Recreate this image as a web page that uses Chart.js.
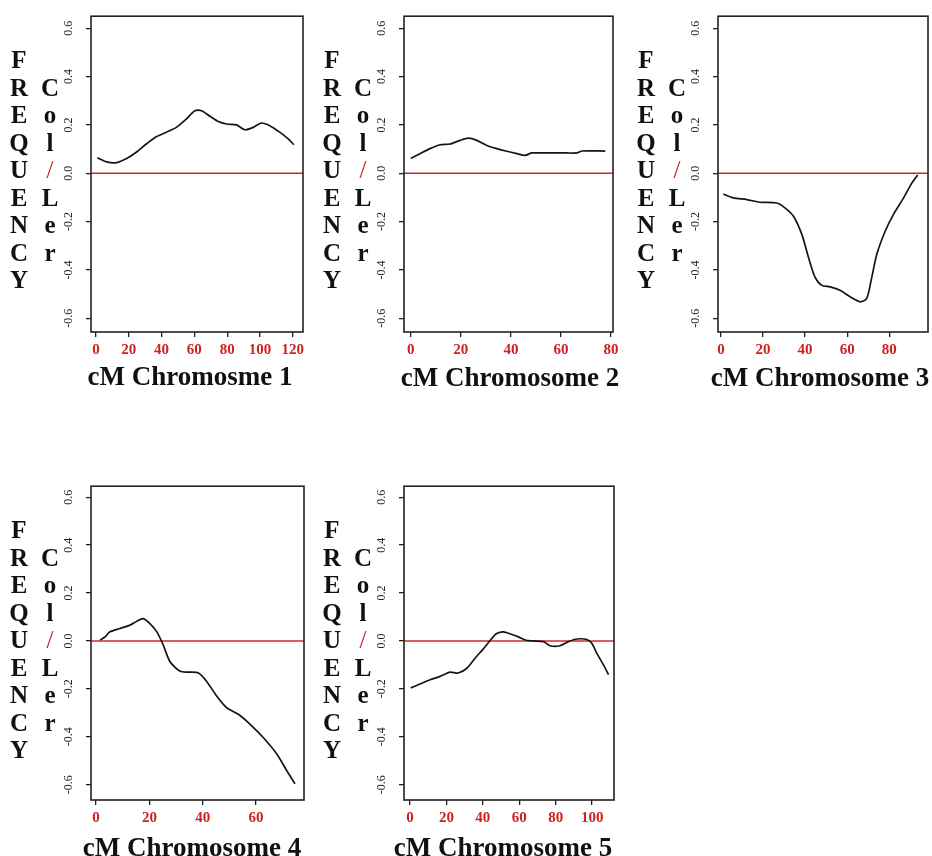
<!DOCTYPE html>
<html>
<head>
<meta charset="utf-8">
<script src="https://cdn.jsdelivr.net/npm/chart.js@4.4.1/dist/chart.umd.min.js"></script>
<style>
  html, body { margin: 0; padding: 0; background: #ffffff; }
  body { width: 932px; height: 856px; position: relative; overflow: hidden; }
  canvas.panel { position: absolute; }
  .col { position: absolute; width: 30px; text-align: center; font-family: "Liberation Serif", "Times New Roman", serif;
         font-weight: bold; font-size: 25px; line-height: 27.5px; color: #111; }
  .col span { display: block; height: 27.5px; }
  .slash { color: #cc2222; font-weight: normal; }
  .xt { position: absolute; width: 300px; text-align: center; font-family: "Liberation Serif", "Times New Roman", serif;
        font-weight: bold; font-size: 27px; line-height: 30px; color: #111; white-space: nowrap; }
</style>
</head>
<body>
<script>
// ---------------- data ----------------
const yTickValues = [-0.6, -0.4, -0.2, 0.0, 0.2, 0.4, 0.6];

const chr1Ticks = [0, 20, 40, 60, 80, 100, 120];
const chr1X = [0.8, 6.5, 12.6, 18.7, 24.8, 30.9, 37, 43, 49, 55.2, 60.3, 64.4, 69.5, 74.6, 79.6, 85.7, 90.8, 95.8, 100.9, 106, 112, 117, 120.6];
const chr1Y = [0.064, 0.047, 0.044, 0.061, 0.088, 0.122, 0.152, 0.17, 0.19, 0.225, 0.259, 0.259, 0.236, 0.214, 0.204, 0.2, 0.18, 0.19, 0.208, 0.197, 0.17, 0.143, 0.118];

const chr2Ticks = [0, 20, 40, 60, 80];
const chr2X = [0, 3.7, 7.7, 11.7, 15.7, 19.7, 23, 26.4, 30.4, 34.4, 38.4, 42.4, 45.7, 48.4, 53, 62.4, 66.4, 68.4, 77.7];
const chr2Y = [0.061, 0.081, 0.102, 0.118, 0.121, 0.136, 0.145, 0.136, 0.115, 0.102, 0.091, 0.081, 0.074, 0.084, 0.084, 0.084, 0.084, 0.092, 0.092];

const chr3Ticks = [0, 20, 40, 60, 80];
const chr3X = [1.1, 5.9, 12.3, 18.5, 26.5, 30.4, 34.4, 38.4, 41.6, 44.7, 47.9, 51.9, 56.6, 61.4, 66.2, 69.3, 71.7, 74.1, 78.1, 82, 86.8, 90.7, 93.5];
const chr3Y = [-0.086, -0.102, -0.109, -0.12, -0.123, -0.143, -0.177, -0.252, -0.348, -0.43, -0.464, -0.47, -0.484, -0.511, -0.532, -0.518, -0.43, -0.334, -0.239, -0.17, -0.102, -0.041, -0.007];

const chr4Ticks = [0, 20, 40, 60];
const chr4X = [1.5, 3.4, 5.2, 9, 12.7, 15.3, 17.7, 20.2, 22.8, 25.2, 27.7, 31.5, 35.2, 38.4, 41.5, 45.3, 49, 53.4, 57.8, 62.7, 67.8, 71.5, 74.6];
const chr4Y = [0.004, 0.017, 0.038, 0.052, 0.066, 0.082, 0.093, 0.072, 0.038, -0.017, -0.086, -0.127, -0.13, -0.134, -0.169, -0.231, -0.279, -0.306, -0.348, -0.403, -0.472, -0.541, -0.596];

const chr5Ticks = [0, 20, 40, 60, 80, 100];
const chr5X = [0.4, 5.5, 11, 16.5, 22, 26.5, 31.2, 35.7, 40.3, 44.9, 47.6, 51.3, 55.9, 59.5, 63.2, 67.8, 73.3, 76.9, 82.4, 87, 91.6, 97.1, 99.8, 102.6, 106.2, 109];
const chr5Y = [-0.196, -0.18, -0.162, -0.148, -0.13, -0.134, -0.114, -0.072, -0.033, 0.01, 0.031, 0.038, 0.027, 0.017, 0.004, 0, -0.003, -0.02, -0.02, -0.003, 0.008, 0.006, -0.01, -0.052, -0.1, -0.141];

const xTitles = ["cM Chromosme 1", "cM Chromosome 2", "cM Chromosome 3", "cM Chromosome 4", "cM Chromosome 5"];
const freqLetters = ["F", "R", "E", "Q", "U", "E", "N", "C", "Y"];
const colLerLetters = ["C", "o", "l", "/", "L", "e", "r"];

// ---------------- layout (positions only) ----------------
const panels = [
  { xs: chr1X, ys: chr1Y, ticks: chr1Ticks, xMin: -3.0, xMax: 126.2, yMin: -0.657, yMax: 0.650, left: 91,  top: 13,  w: 212, h: 319, titleX: 190, titleY: 376 },
  { xs: chr2X, ys: chr2Y, ticks: chr2Ticks, xMin: -2.7, xMax: 80.8,  yMin: -0.657, yMax: 0.650, left: 404, top: 13,  w: 209, h: 319, titleX: 510, titleY: 377 },
  { xs: chr3X, ys: chr3Y, ticks: chr3Ticks, xMin: -1.4, xMax: 98.4,  yMin: -0.657, yMax: 0.650, left: 718, top: 13,  w: 210, h: 319, titleX: 820, titleY: 377 },
  { xs: chr4X, ys: chr4Y, ticks: chr4Ticks, xMin: -1.9, xMax: 78.0,  yMin: -0.664, yMax: 0.646, left: 91,  top: 483, w: 213, h: 317, titleX: 192, titleY: 847 },
  { xs: chr5X, ys: chr5Y, ticks: chr5Ticks, xMin: -3.3, xMax: 112.0, yMin: -0.664, yMax: 0.646, left: 404, top: 483, w: 210, h: 317, titleX: 503, titleY: 847 }
];
const PAD_L = 60, PAD_T = 12, PAD_R = 12, PAD_B = 40;

const boxPlugin = {
  id: 'plotBox',
  afterDraw(chart) {
    const a = chart.chartArea, ctx = chart.ctx;
    ctx.save();
    ctx.strokeStyle = '#222';
    ctx.lineWidth = 1.6;
    ctx.strokeRect(a.left, a.top, a.right - a.left, a.bottom - a.top);
    ctx.restore();
  }
};

function addColumn(letters, leftPx, topPx) {
  const d = document.createElement('div');
  d.className = 'col';
  d.style.left = leftPx + 'px';
  d.style.top = topPx + 'px';
  letters.forEach(ch => {
    const s = document.createElement('span');
    s.textContent = ch;
    if (ch === '/') s.className = 'slash';
    d.appendChild(s);
  });
  document.body.appendChild(d);
}

panels.forEach((p, idx) => {
  const cv = document.createElement('canvas');
  cv.className = 'panel';
  const W = p.w + PAD_L + PAD_R, H = p.h + PAD_T + PAD_B;
  cv.width = W; cv.height = H;
  cv.style.width = W + 'px'; cv.style.height = H + 'px';
  cv.style.left = (p.left - PAD_L) + 'px';
  cv.style.top = (p.top - PAD_T) + 'px';
  document.body.appendChild(cv);

  const curve = p.xs.map((x, i) => ({ x: x, y: p.ys[i] }));
  const zero = [{ x: p.xMin, y: 0 }, { x: p.xMax, y: 0 }];

  new Chart(cv.getContext('2d'), {
    type: 'line',
    data: {
      datasets: [
        { data: curve, borderColor: '#151515', borderWidth: 1.7, pointRadius: 0, tension: 0.25, fill: false },
        { data: zero, borderColor: '#cc2a2a', borderWidth: 1.4, pointRadius: 0, tension: 0, fill: false }
      ]
    },
    options: {
      responsive: false,
      animation: false,
      devicePixelRatio: 1,
      layout: { padding: { left: 0, top: PAD_T, right: PAD_R, bottom: 0 } },
      plugins: { legend: { display: false }, tooltip: { enabled: false }, title: { display: false } },
      scales: {
        x: {
          type: 'linear',
          min: p.xMin, max: p.xMax,
          afterBuildTicks: s => { s.ticks = p.ticks.map(v => ({ value: v })); },
          afterFit: s => { s.height = PAD_B; },
          border: { display: false },
          grid: { display: true, drawOnChartArea: false, drawTicks: true, tickLength: 5, color: '#222', lineWidth: 1.3 },
          ticks: {
            color: '#cc2222', padding: 4, maxRotation: 0, minRotation: 0, autoSkip: false,
            font: { family: '"Liberation Serif", "Times New Roman", serif', size: 15, weight: 'bold' },
            callback: v => String(v)
          }
        },
        y: {
          type: 'linear',
          min: p.yMin, max: p.yMax,
          afterBuildTicks: s => { s.ticks = yTickValues.map(v => ({ value: v })); },
          afterFit: s => { s.width = PAD_L; },
          border: { display: false },
          grid: { display: true, drawOnChartArea: false, drawTicks: true, tickLength: 5, color: '#222', lineWidth: 1.3 },
          ticks: {
            color: '#222', padding: 8, minRotation: 90, maxRotation: 90, crossAlign: 'center', autoSkip: false,
            font: { family: '"Liberation Serif", "Times New Roman", serif', size: 12 },
            callback: v => Number(v).toFixed(1)
          }
        }
      }
    },
    plugins: [boxPlugin]
  });

  // x-axis title
  const t = document.createElement('div');
  t.className = 'xt';
  t.textContent = xTitles[idx];
  t.style.left = (p.titleX - 150) + 'px';
  t.style.top = (p.titleY - 15.2) + 'px';
  document.body.appendChild(t);

  // stacked axis labels
  const colLeft1 = p.left - 91 + 4;
  const colLeft2 = p.left - 91 + 35;
  const firstTop = p.top - 13 + 60 - 13.9;
  addColumn(freqLetters, colLeft1, firstTop);
  addColumn(colLerLetters, colLeft2, firstTop + 27.5);
});
</script>
</body>
</html>
